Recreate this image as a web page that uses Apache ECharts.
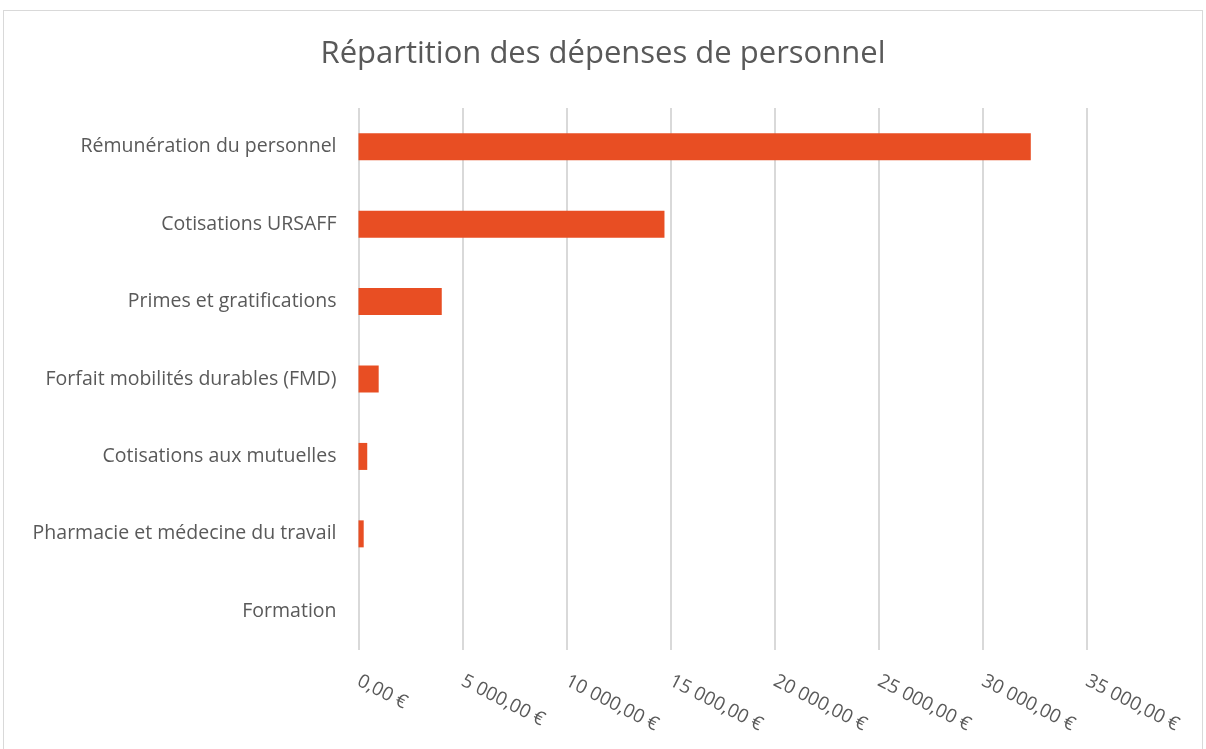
<!DOCTYPE html>
<html>
<head>
<meta charset="utf-8">
<script src="https://cdn.jsdelivr.net/npm/echarts@6/dist/echarts.min.js"></script>
<style>
  html, body { margin: 0; padding: 0; background: #fff; }
  #frame {
    position: absolute; left: 3px; top: 10px; width: 1200px; height: 739px;
    border: 1px solid #d9d9d9; border-bottom: none; box-sizing: border-box;
  }
  #chart { position: absolute; left: 0; top: 0; width: 1206px; height: 749px; }
</style>
</head>
<body>
<div id="frame"></div>
<div id="chart"></div>
<script>
// catégories, de haut en bas
const categories = [
  "Rémunération du personnel",
  "Cotisations URSAFF",
  "Primes et gratifications",
  "Forfait mobilités durables (FMD)",
  "Cotisations aux mutuelles",
  "Pharmacie et médecine du travail",
  "Formation"
]
const montants = [32300, 14700, 4000, 970, 420, 250, 0]
const titre = "Répartition des dépenses de personnel"

function euro(v) {
  let s = Math.round(v).toString().replace(/\B(?=(\d{3})+(?!\d))/g, " ")
  return s + ",00 €"
}

let chart = echarts.init(document.getElementById("chart"))
chart.setOption({
  backgroundColor: "transparent",
  textStyle: { fontFamily: "Open Sans" },
  title: {
    text: titre,
    left: "center",
    top: 34,
    textStyle: { color: "#595959", fontSize: 31, fontWeight: "normal", fontFamily: "Open Sans" }
  },
  grid: {
    left: 358.5,
    top: 108,
    width: 728.5,
    height: 542
  },
  xAxis: {
    type: "value",
    min: 0,
    max: 35000,
    interval: 5000,
    axisLine: { show: false },
    axisTick: { show: false },
    splitLine: { lineStyle: { color: "#d9d9d9", width: 2 } },
    axisLabel: {
      rotate: -27,
      margin: 30,
      color: "#595959",
      fontSize: 19,
      formatter: euro
    }
  },
  yAxis: {
    type: "category",
    inverse: true,
    data: categories,
    axisLine: { show: false },
    axisTick: { show: false },
    axisLabel: { color: "#595959", fontSize: 19.5, margin: 22 }
  },
  series: [
    {
      type: "bar",
      data: montants,
      barWidth: 27,
      itemStyle: { color: "#e84e23" },
      animation: false
    }
  ]
})
</script>
</body>
</html>
